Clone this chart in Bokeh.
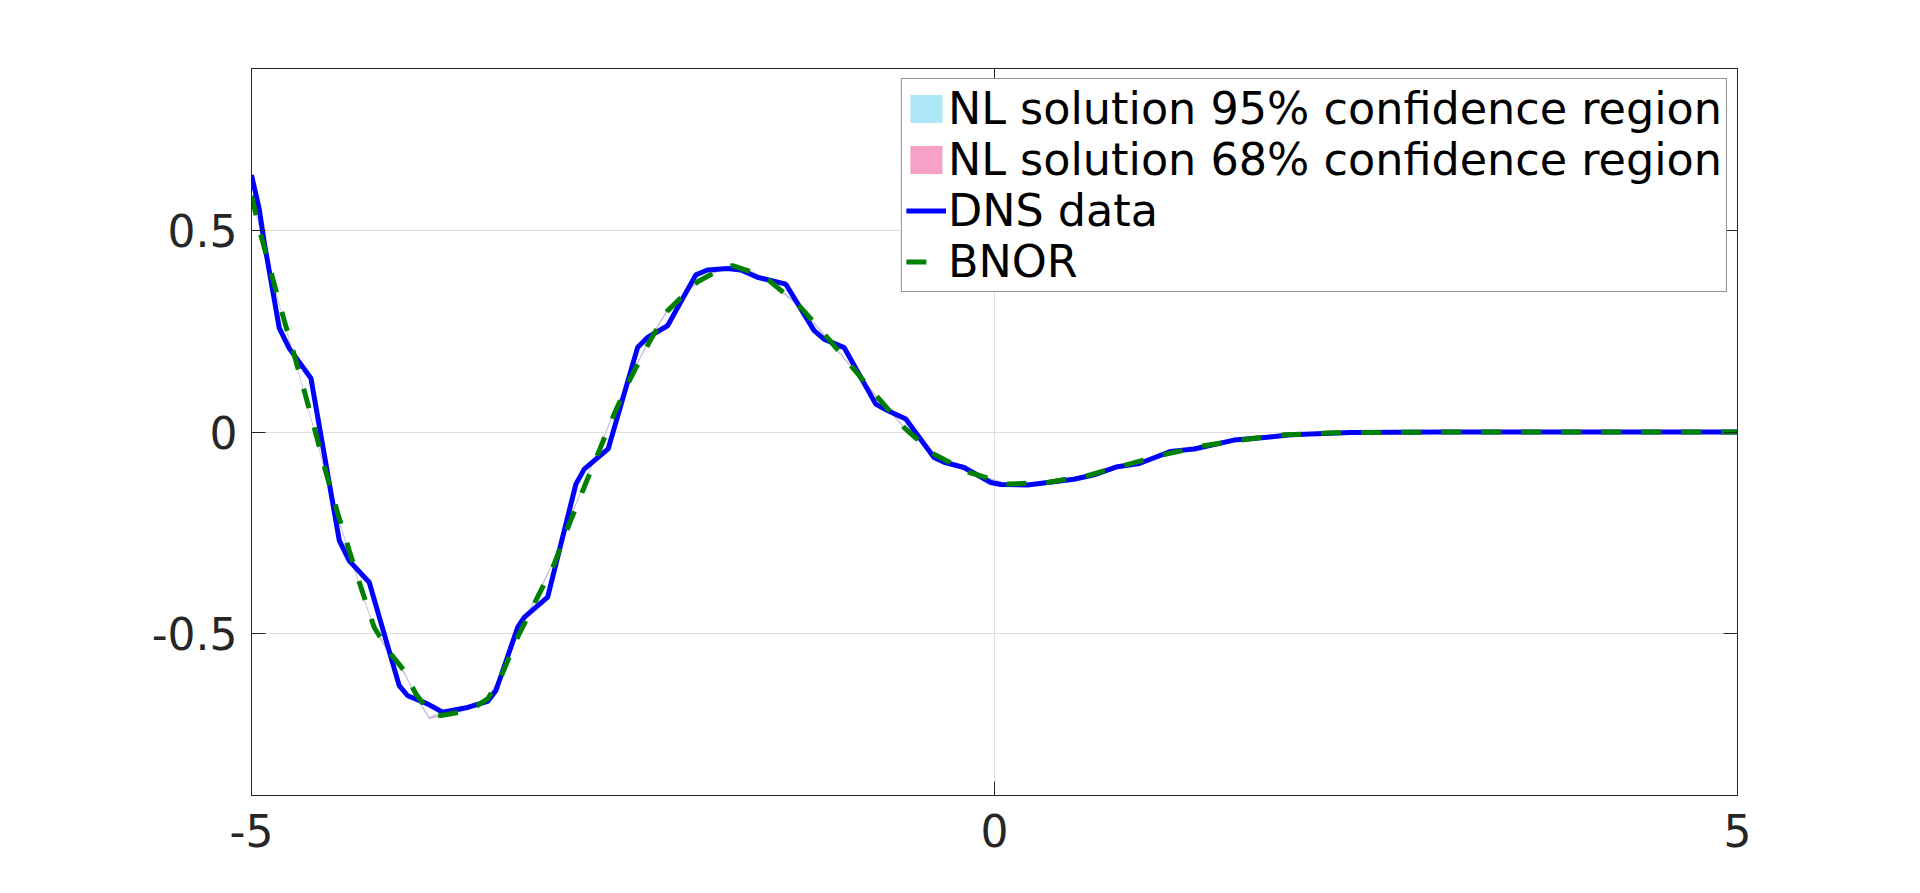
from bokeh.plotting import figure
from bokeh.models import (Range1d, FixedTicker, LinearAxis, Legend, LegendItem,
                          ColumnDataSource)
from bokeh.embed import file_html
from bokeh.resources import INLINE

# ---------------- data ----------------
dns_x = [-5.000, -4.948, -4.914, -4.813, -4.746, -4.600, -4.409, -4.342, -4.208,
         -4.006, -3.949, -3.815, -3.714, -3.546, -3.411, -3.355, -3.209, -3.165,
         -3.007, -2.817, -2.761, -2.600, -2.402, -2.335, -2.200, -2.010, -1.931,
         -1.797, -1.707, -1.595, -1.404, -1.214, -1.147, -1.012, -0.799, -0.720,
         -0.597, -0.407, -0.339, -0.205, -0.025, 0.042, 0.222, 0.535, 0.670,
         0.827, 0.975, 1.186, 1.343, 1.612, 1.836, 1.993, 2.397, 3.000, 4.000, 5.000]
dns_y = [0.636, 0.552, 0.469, 0.257, 0.207, 0.133, -0.269, -0.319, -0.372,
         -0.628, -0.653, -0.673, -0.694, -0.682, -0.667, -0.640, -0.484, -0.459,
         -0.409, -0.129, -0.092, -0.042, 0.209, 0.234, 0.263, 0.389, 0.401,
         0.405, 0.401, 0.383, 0.366, 0.251, 0.230, 0.209, 0.069, 0.053,
         0.032, -0.063, -0.075, -0.088, -0.125, -0.130, -0.131, -0.117, -0.106,
         -0.086, -0.078, -0.048, -0.042, -0.020, -0.013, -0.007, -0.001, 0.000, 0.000, 0.000]

bnor_x = [-5.000, -4.936, -4.847, -4.779, -4.705, -4.633, -4.566, -4.499, -4.420,
          -4.342, -4.263, -4.174, -4.062, -3.972, -3.893, -3.792, -3.725, -3.600,
          -3.478, -3.411, -3.322, -3.209, -3.075, -2.963, -2.862, -2.766, -2.660,
          -2.559, -2.447, -2.324, -2.200, -1.998, -1.864, -1.763, -1.628, -1.517,
          -1.315, -1.135, -0.956, -0.787, -0.608, -0.407, -0.171, 0.087, 0.356,
          0.625, 0.871, 1.141, 1.410, 1.657, 1.948, 2.284, 3.000, 4.000, 5.000]
bnor_y = [0.585, 0.486, 0.366, 0.275, 0.181, 0.086, -0.005, -0.100, -0.201,
          -0.294, -0.385, -0.484, -0.550, -0.591, -0.649, -0.698, -0.702, -0.694,
          -0.677, -0.661, -0.607, -0.508, -0.409, -0.327, -0.228, -0.141, -0.046,
          0.045, 0.135, 0.222, 0.300, 0.372, 0.399, 0.412, 0.395, 0.375,
          0.313, 0.238, 0.160, 0.086, 0.011, -0.055, -0.100, -0.129, -0.125,
          -0.108, -0.083, -0.056, -0.034, -0.020, -0.007, -0.002, 0.000, 0.000, 0.000]

# NL solution mean and standard deviation (very narrow bands)
nl_x = [-5.000, -4.936, -4.847, -4.779, -4.705, -4.633, -4.566, -4.499, -4.420,
        -4.342, -4.263, -4.174, -4.062, -3.972, -3.893, -3.804, -3.725, -3.600,
        -3.478, -3.411, -3.322, -3.209, -3.075, -2.963, -2.862, -2.766, -2.660,
        -2.559, -2.447, -2.324, -2.200, -1.998, -1.864, -1.763, -1.628, -1.517,
        -1.315, -1.135, -0.956, -0.787, -0.608, -0.407, -0.171, 0.087, 0.356,
        0.625, 0.871, 1.141, 1.410, 1.657, 1.948, 2.284, 3.000, 4.000, 5.000]
nl_mean = [0.590, 0.488, 0.362, 0.270, 0.176, 0.080, -0.012, -0.108, -0.210,
           -0.300, -0.390, -0.488, -0.553, -0.596, -0.655, -0.708, -0.700, -0.690,
           -0.676, -0.660, -0.604, -0.503, -0.402, -0.318, -0.220, -0.132, -0.040,
           0.050, 0.140, 0.226, 0.302, 0.372, 0.400, 0.410, 0.394, 0.374,
           0.312, 0.236, 0.158, 0.085, 0.011, -0.055, -0.100, -0.129, -0.125,
           -0.108, -0.083, -0.056, -0.034, -0.020, -0.007, -0.002, 0.000, 0.000, 0.000]
nl_std = [0.002, 0.002, 0.002, 0.002, 0.002, 0.002, 0.002, 0.002, 0.002,
          0.002, 0.002, 0.002, 0.002, 0.002, 0.002, 0.002, 0.002, 0.002,
          0.002, 0.002, 0.002, 0.002, 0.002, 0.002, 0.002, 0.002, 0.002,
          0.002, 0.002, 0.002, 0.002, 0.002, 0.002, 0.002, 0.002, 0.002,
          0.0015, 0.0015, 0.0015, 0.0015, 0.0015, 0.001, 0.001, 0.001, 0.001,
          0.001, 0.001, 0.001, 0.001, 0.001, 0.001, 0.001, 0.001, 0.001, 0.001]

x_ticks = [-5, 0, 5]
x_tick_labels = ["-5", "0", "5"]
y_ticks = [-0.5, 0, 0.5]
y_tick_labels = ["-0.5", "0", "0.5"]
labels = ["NL solution 95% confidence region", "NL solution 68% confidence region",
          "DNS data", "BNOR"]

# ---------------- figure ----------------
FONT = "DejaVu Sans"
AX = "#262626"

p = figure(width=1904, height=877, output_backend="svg", toolbar_location=None,
           x_range=Range1d(-5, 5), y_range=Range1d(-0.9, 0.9),
           min_border_left=251, min_border_right=167, min_border_top=68,
           min_border_bottom=82, x_axis_location=None, y_axis_location=None)
p.outline_line_color = None
p.background_fill_color = "white"
p.border_fill_color = "white"


def style_axis(ax, ticks, tick_labels, show_labels):
    ax.ticker = FixedTicker(ticks=ticks)
    ax.axis_line_color = AX
    ax.axis_line_width = 1
    ax.major_tick_line_color = AX
    ax.major_tick_in = 14
    ax.major_tick_out = 0
    ax.minor_tick_line_color = None
    if show_labels:
        ax.major_label_overrides = {t: s for t, s in zip(ticks, tick_labels)}
        ax.major_label_text_font = FONT
        ax.major_label_text_font_size = "44px"
        ax.major_label_text_color = AX
    else:
        ax.major_label_text_color = None
        ax.major_label_text_font_size = "1px"
        ax.major_label_standoff = 0


xb = LinearAxis()
style_axis(xb, x_ticks, x_tick_labels, True)
xb.major_label_standoff = 18
p.add_layout(xb, "below")

yl = LinearAxis()
style_axis(yl, y_ticks, y_tick_labels, True)
yl.major_label_standoff = 14
p.add_layout(yl, "left")

xt = LinearAxis()
style_axis(xt, x_ticks, x_tick_labels, False)
p.add_layout(xt, "above")

yr = LinearAxis()
style_axis(yr, y_ticks, y_tick_labels, False)
p.add_layout(yr, "right")

p.xgrid.ticker = FixedTicker(ticks=x_ticks)
p.ygrid.ticker = FixedTicker(ticks=y_ticks)
for g in (p.xgrid, p.ygrid):
    g.grid_line_color = "#dedede"
    g.grid_line_width = 1

# confidence bands
lo95 = [m - 2 * s for m, s in zip(nl_mean, nl_std)]
hi95 = [m + 2 * s for m, s in zip(nl_mean, nl_std)]
lo68 = [m - s for m, s in zip(nl_mean, nl_std)]
hi68 = [m + s for m, s in zip(nl_mean, nl_std)]
src = ColumnDataSource(dict(x=nl_x, lo95=lo95, hi95=hi95, lo68=lo68, hi68=hi68))

r95 = p.varea(x="x", y1="lo95", y2="hi95", source=src, fill_color="#aee8f8")
r68 = p.varea(x="x", y1="lo68", y2="hi68", source=src, fill_color="#f7a1c9")
rdns = p.line(dns_x, dns_y, line_color="#0000ff", line_width=5)
rbn = p.line(bnor_x, bnor_y, line_color="#008000", line_width=5, line_dash="20 20")

legend = Legend(items=[LegendItem(label=labels[0], renderers=[r95]),
                       LegendItem(label=labels[1], renderers=[r68]),
                       LegendItem(label=labels[2], renderers=[rdns]),
                       LegendItem(label=labels[3], renderers=[rbn])],
                location="top_right")
legend.label_text_font = FONT
legend.label_text_font_size = "44.5px"
legend.label_text_color = "black"
legend.glyph_width = 40
legend.glyph_height = 35
legend.label_standoff = 2
legend.padding = 4
legend.spacing = 0
legend.margin = 10
legend.border_line_color = AX
legend.border_line_width = 1
legend.background_fill_color = "white"
legend.background_fill_alpha = 1
p.add_layout(legend)

open("out.html", "w").write(file_html(p, INLINE))
